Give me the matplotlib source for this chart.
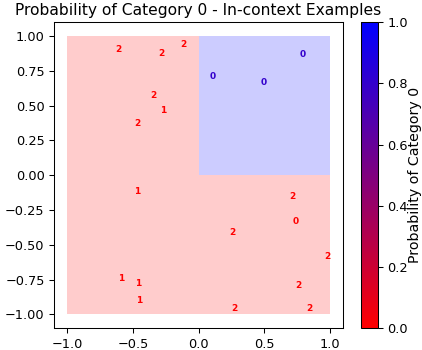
import numpy as np
import matplotlib
matplotlib.use("Agg")
import matplotlib.pyplot as plt
from matplotlib.colors import LinearSegmentedColormap
from matplotlib.cm import ScalarMappable
from matplotlib.colors import Normalize

# In-context examples: positions, labels, probability of category 0 at the point
xs = [-0.608, -0.286, -0.114, 0.108, 0.495, 0.793, -0.343, -0.27, -0.467,
      -0.47, 0.712, 0.74, 0.255, 0.98, -0.588, -0.46, 0.76, -0.452, 0.27, 0.843]
ys = [0.905, 0.871, 0.94, 0.706, 0.663, 0.869, 0.57, 0.467, 0.374,
      -0.116, -0.154, -0.331, -0.414, -0.586, -0.74, -0.776, -0.79, -0.902, -0.957, -0.957]
labels = ["2", "2", "2", "0", "0", "0", "2", "1", "2",
          "1", "2", "0", "2", "2", "1", "1", "2", "1", "2", "2"]
point_prob = [0, 0, 0, 0.8, 0.8, 0.8, 0, 0, 0,
              0, 0, 0, 0, 0, 0, 0, 0, 0, 0, 0]

# Probability grid (quadrants)
grid_edges = [-1.0, 0.0, 1.0]
grid_prob = [[0, 0],   # y in [-1,0]: x<0, x>0
             [0, 1]]   # y in [0,1]

cmap = LinearSegmentedColormap.from_list("rb", ["red", "blue"])

fig = plt.figure(figsize=(4.22, 3.5), dpi=100)
ax = fig.add_axes([54/422, 1 - 328.3/350, 289/422, 306.3/350])
cax = fig.add_axes([361/422, 1 - 328.3/350, 16.7/422, 306.3/350])

ax.pcolormesh(grid_edges, grid_edges, np.array(grid_prob), cmap=cmap,
              vmin=0, vmax=1, alpha=0.2, shading="flat")

for x, y, lab, p in zip(xs, ys, labels, point_prob):
    ax.text(x, y, lab, color=cmap(p), fontsize=6.5, fontweight="bold",
            ha="center", va="center")

ax.set_xlim(-1.1, 1.1)
ax.set_ylim(-1.1, 1.1)
ax.set_xticks([-1.0, -0.5, 0.0, 0.5, 1.0])
ax.set_yticks([-1.0, -0.75, -0.5, -0.25, 0.0, 0.25, 0.5, 0.75, 1.0])
ax.tick_params(labelsize=9.3, length=3.3, width=0.75)
for s in ax.spines.values():
    s.set_linewidth(0.75)
ax.set_title("Probability of Category 0 - In-context Examples", fontsize=11.2, pad=5)

cb = fig.colorbar(ScalarMappable(norm=Normalize(0, 1), cmap=cmap), cax=cax)
cb.set_label("Probability of Category 0", fontsize=10.2, labelpad=0.3)
cb.ax.tick_params(labelsize=9.3, length=3.3, width=0.75)
cb.outline.set_linewidth(0.75)

fig.savefig("out.png", dpi=100)
